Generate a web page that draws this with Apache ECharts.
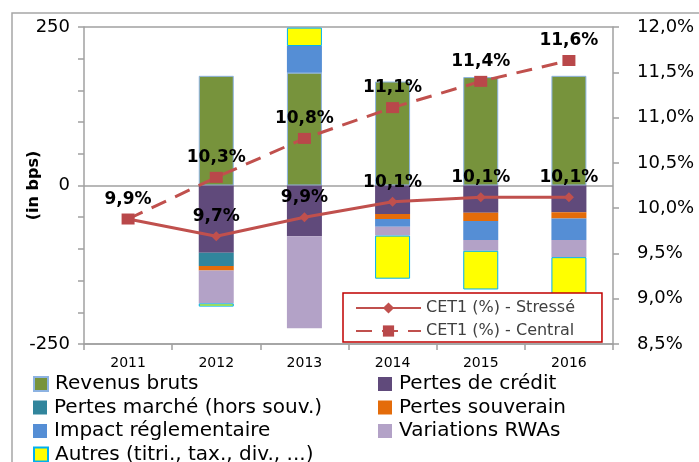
<!DOCTYPE html>
<html>
<head>
<meta charset="utf-8">
<script src="https://cdn.jsdelivr.net/npm/echarts@6/dist/echarts.min.js"></script>
<style>
  html, body { margin: 0; padding: 0; background: #fff; }
  #chart { width: 699px; height: 462px; }
</style>
</head>
<body>
<div id="chart"></div>
<script>
const years = ['2011', '2012', '2013', '2014', '2015', '2016']

// bps contributions
const revenusBruts   = ['-', 173, 178, 164, 171, 173]
const pertesCredit   = ['-', -106, -80, -45, -43, -42]
const pertesMarche   = ['-', -21, '-', '-', '-', '-']
const pertesSouv     = ['-', -7, '-', -8, -13, -10]
const impactRegl     = ['-', '-', 42, -12, -30, -34]
const variationsRWA  = ['-', -52, -145, -14, -17, -27]
const autres         = ['-', -5, 29, -68, -61, -65]

// CET1 ratio (%)
const cet1Stresse = [9.88, 9.69, 9.90, 10.07, 10.12, 10.12]
const cet1Central = [9.88, 10.34, 10.77, 11.11, 11.40, 11.63]

// legend grid: two columns, four rows
const barNames = ['Revenus bruts', 'Pertes de crédit', 'Pertes marché (hors souv.)', 'Pertes souverain',
                  'Impact réglementaire', 'Variations RWAs', 'Autres (titri., tax., div., ...)']

const FONT = 'DejaVu Sans'
const fmtPct = v => v.toFixed(1).replace('.', ',') + '%'

const chart = echarts.init(document.getElementById('chart'))

const bar = (name, data, color, border) => ({
  name,
  type: 'bar',
  stack: 'bps',
  barWidth: 35,
  data,
  itemStyle: {
    color,
    borderColor: border || color,
    borderWidth: border ? 1 : 0,
  },
})

const lineLabel = {
  show: true,
  position: 'top',
  distance: 6,
  fontFamily: FONT,
  fontWeight: 'bold',
  fontSize: 17,
  color: '#000',
  formatter: p => fmtPct(p.value),
}

const barLegends = barNames.map((n, i) => ({
  data: [n],
  left: i % 2 ? 378 : 33,
  top: 374 + Math.floor(i / 2) * 23.5,
  padding: 0,
  itemWidth: 14, itemHeight: 14,
  icon: 'rect',
  textStyle: { fontFamily: FONT, fontSize: 20, color: '#000', padding: [0, 0, 0, 2] },
}))

const option = {
  animation: false,
  textStyle: { fontFamily: FONT },
  grid: { left: 84, right: 86, top: 27, bottom: 118 },
  graphic: [{
    type: 'rect',
    shape: { x: 12, y: 13, width: 700, height: 460 },
    style: { fill: 'none', stroke: '#a6a6a6', lineWidth: 1.5 },
    silent: true,
  }],
  legend: [...barLegends, {
    data: ['CET1 (%) - Stressé', 'CET1 (%) - Central'],
    orient: 'vertical',
    left: 343, top: 293,
    padding: [7, 27, 3, 12],
    itemWidth: 65, itemHeight: 14, itemGap: 7,
    backgroundColor: '#fff',
    borderColor: '#c00000',
    borderWidth: 1.5,
    textStyle: { fontFamily: FONT, fontSize: 16, color: '#404040' },
  }],
  xAxis: {
    type: 'category',
    data: years,
    axisLine: { onZero: false, lineStyle: { color: '#a0a0a0', width: 1.5 } },
    axisTick: { show: true, length: 6, lineStyle: { color: '#a0a0a0', width: 1.5 } },
    axisLabel: { fontFamily: FONT, fontSize: 14, color: '#000', margin: 12 },
  },
  yAxis: [{
    type: 'value',
    min: -250, max: 250, interval: 250,
    name: '(in bps)',
    nameLocation: 'middle',
    nameRotate: 90,
    nameGap: 42,
    nameMoveOverlap: false,
    nameTextStyle: { fontFamily: FONT, fontSize: 16, fontWeight: 'bold', color: '#000' },
    axisLine: { show: true, lineStyle: { color: '#a0a0a0', width: 1.5 } },
    axisTick: { show: true, length: 6, lineStyle: { color: '#a0a0a0', width: 1.5 } },
    minorTick: { show: true, splitNumber: 5, length: 6, lineStyle: { color: '#a0a0a0', width: 1.5 } },
    splitLine: { show: true, lineStyle: { color: '#a0a0a0', width: 1.5 } },
    axisLabel: { fontFamily: FONT, fontSize: 18, color: '#000', margin: 14 },
  }, {
    type: 'value',
    min: 8.5, max: 12, interval: 0.5,
    axisLine: { show: true, lineStyle: { color: '#a0a0a0', width: 1.5 } },
    axisTick: { show: true, length: 6, lineStyle: { color: '#a0a0a0', width: 1.5 } },
    splitLine: { show: false },
    axisLabel: { fontFamily: FONT, fontSize: 18, color: '#000', margin: 24, formatter: fmtPct },
  }],
  series: [
    bar('Revenus bruts', revenusBruts, '#77933c', '#8db3e2'),
    bar('Pertes de crédit', pertesCredit, '#604a7b'),
    bar('Pertes marché (hors souv.)', pertesMarche, '#31859c'),
    bar('Pertes souverain', pertesSouv, '#e46c0a'),
    bar('Impact réglementaire', impactRegl, '#558ed5'),
    bar('Variations RWAs', variationsRWA, '#b3a2c7'),
    bar('Autres (titri., tax., div., ...)', autres, '#ffff00', '#00b0f0'),
    {
      name: 'CET1 (%) - Stressé',
      type: 'line',
      yAxisIndex: 1,
      data: cet1Stresse,
      symbol: 'diamond',
      symbolSize: 10,
      itemStyle: { color: '#c0504d' },
      lineStyle: { color: '#c0504d', width: 3 },
      label: lineLabel,
      z: 5,
    },
    {
      name: 'CET1 (%) - Central',
      type: 'line',
      yAxisIndex: 1,
      data: cet1Central.map((v, i) => i === 0 ? { value: v, label: { show: false } } : v),
      symbol: 'rect',
      symbolSize: [13, 11],
      itemStyle: { color: '#b9484a' },
      lineStyle: { color: '#c0504d', width: 3, type: [16, 10] },
      label: lineLabel,
      z: 5,
    },
  ],
}

chart.setOption(option)
</script>
</body>
</html>
